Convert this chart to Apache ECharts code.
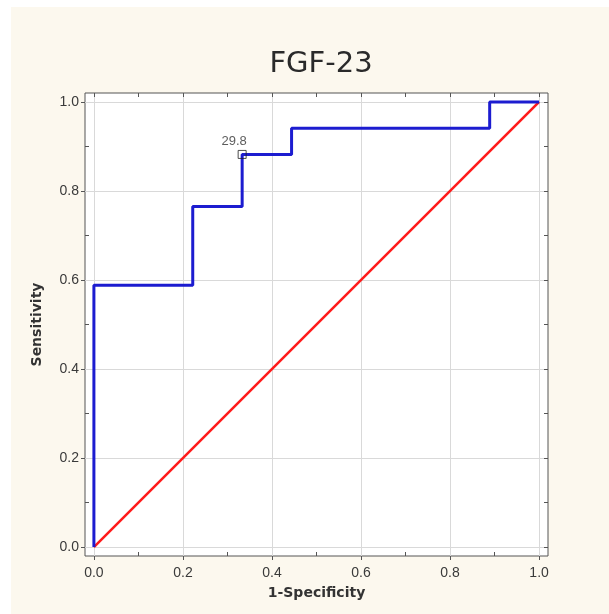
<!DOCTYPE html>
<html>
<head>
<meta charset="utf-8">
<script src="https://cdn.jsdelivr.net/npm/echarts@6/dist/echarts.min.js"></script>
<style>
  html, body { margin: 0; padding: 0; background: #ffffff; }
  #chart { position: absolute; left: 11px; top: 7px; width: 598px; height: 607px; background: #fcf8ee; }
</style>
</head>
<body>
<div id="chart"></div>
<script>
// ROC curve points (1-specificity, sensitivity), drawn as steps
const fpr = [0, 0, 0.222, 0.333, 0.444, 0.889, 1]
const tpr = [0, 0.588, 0.765, 0.882, 0.941, 1, 1]
// reference diagonal
const diagX = [0, 1]
const diagY = [0, 1]
// cut-off point
const cutX = 0.333
const cutY = 0.882
const cutLabel = '29.8'

const majorTicks = [0, 0.2, 0.4, 0.6, 0.8, 1.0]
const minorTicks = [0.1, 0.3, 0.5, 0.7, 0.9]
const allTicks = [0, 0.1, 0.2, 0.3, 0.4, 0.5, 0.6, 0.7, 0.8, 0.9, 1.0]

const chart = echarts.init(document.getElementById('chart'))

const frameColor = '#555'
const labelFont = { color: '#3a3a3a', fontSize: 14, fontFamily: 'Liberation Sans' }

const baseAxis = {
  type: 'value',
  min: -0.02,
  max: 1.02,
  axisLine: { show: false, onZero: false },
  splitLine: { show: false },
  axisLabel: { show: false },
  axisTick: { show: false }
}

const mainAxis = (name, gap, margin) => Object.assign({}, baseAxis, {
  name: name,
  nameLocation: 'middle',
  nameGap: gap,
  nameTextStyle: { color: '#333', fontSize: 14, fontWeight: 'bold', fontFamily: 'DejaVu Sans' },
  axisTick: { show: true, customValues: majorTicks, length: 4, lineStyle: { color: frameColor } },
  axisLabel: Object.assign({ show: true, customValues: majorTicks, margin: margin,
    formatter: v => v.toFixed(1) }, labelFont),
  splitLine: { show: true, lineStyle: { color: '#d9d9d9', width: 1 } }
})

const innerTicks = (position, values) => Object.assign({}, baseAxis, {
  position: position,
  axisTick: { show: true, inside: true, customValues: values, length: 4, lineStyle: { color: frameColor } }
})

const option = {
  animation: false,
  title: {
    text: 'FGF-23',
    left: 305,
    top: 38,
    textAlign: 'center',
    textStyle: { color: '#2a2a2a', fontSize: 29, fontWeight: 'normal', fontFamily: 'DejaVu Sans' }
  },
  grid: {
    left: 74,
    top: 86,
    right: 61,
    bottom: 58,
    show: true,
    backgroundColor: '#ffffff',
    borderColor: frameColor,
    borderWidth: 1
  },
  xAxis: [
    Object.assign(mainAxis('1-Specificity', 30, 10), { position: 'bottom' }),
    innerTicks('bottom', minorTicks),
    innerTicks('top', allTicks)
  ],
  yAxis: [
    Object.assign(mainAxis('Sensitivity', 41, 6), { position: 'left' }),
    innerTicks('left', minorTicks),
    innerTicks('right', allTicks)
  ],
  series: [
    {
      type: 'line',
      data: diagX.map((x, i) => [x, diagY[i]]),
      showSymbol: false,
      lineStyle: { color: '#ff1a1a', width: 2.5 },
      z: 2
    },
    {
      type: 'line',
      step: 'end',
      data: fpr.map((x, i) => [x, tpr[i]]),
      showSymbol: false,
      lineStyle: { color: '#1c1cd0', width: 3 },
      z: 3
    },
    {
      type: 'scatter',
      data: [[cutX, cutY]],
      symbol: 'rect',
      symbolSize: 8,
      itemStyle: { color: 'rgba(255,255,255,0)', borderColor: '#222', borderWidth: 1 },
      label: {
        show: true,
        position: 'top',
        offset: [-8, 3],
        formatter: cutLabel,
        color: '#333',
        fontSize: 13,
        fontFamily: 'Liberation Sans'
      },
      z: 4
    }
  ]
}

chart.setOption(option)
</script>
</body>
</html>
